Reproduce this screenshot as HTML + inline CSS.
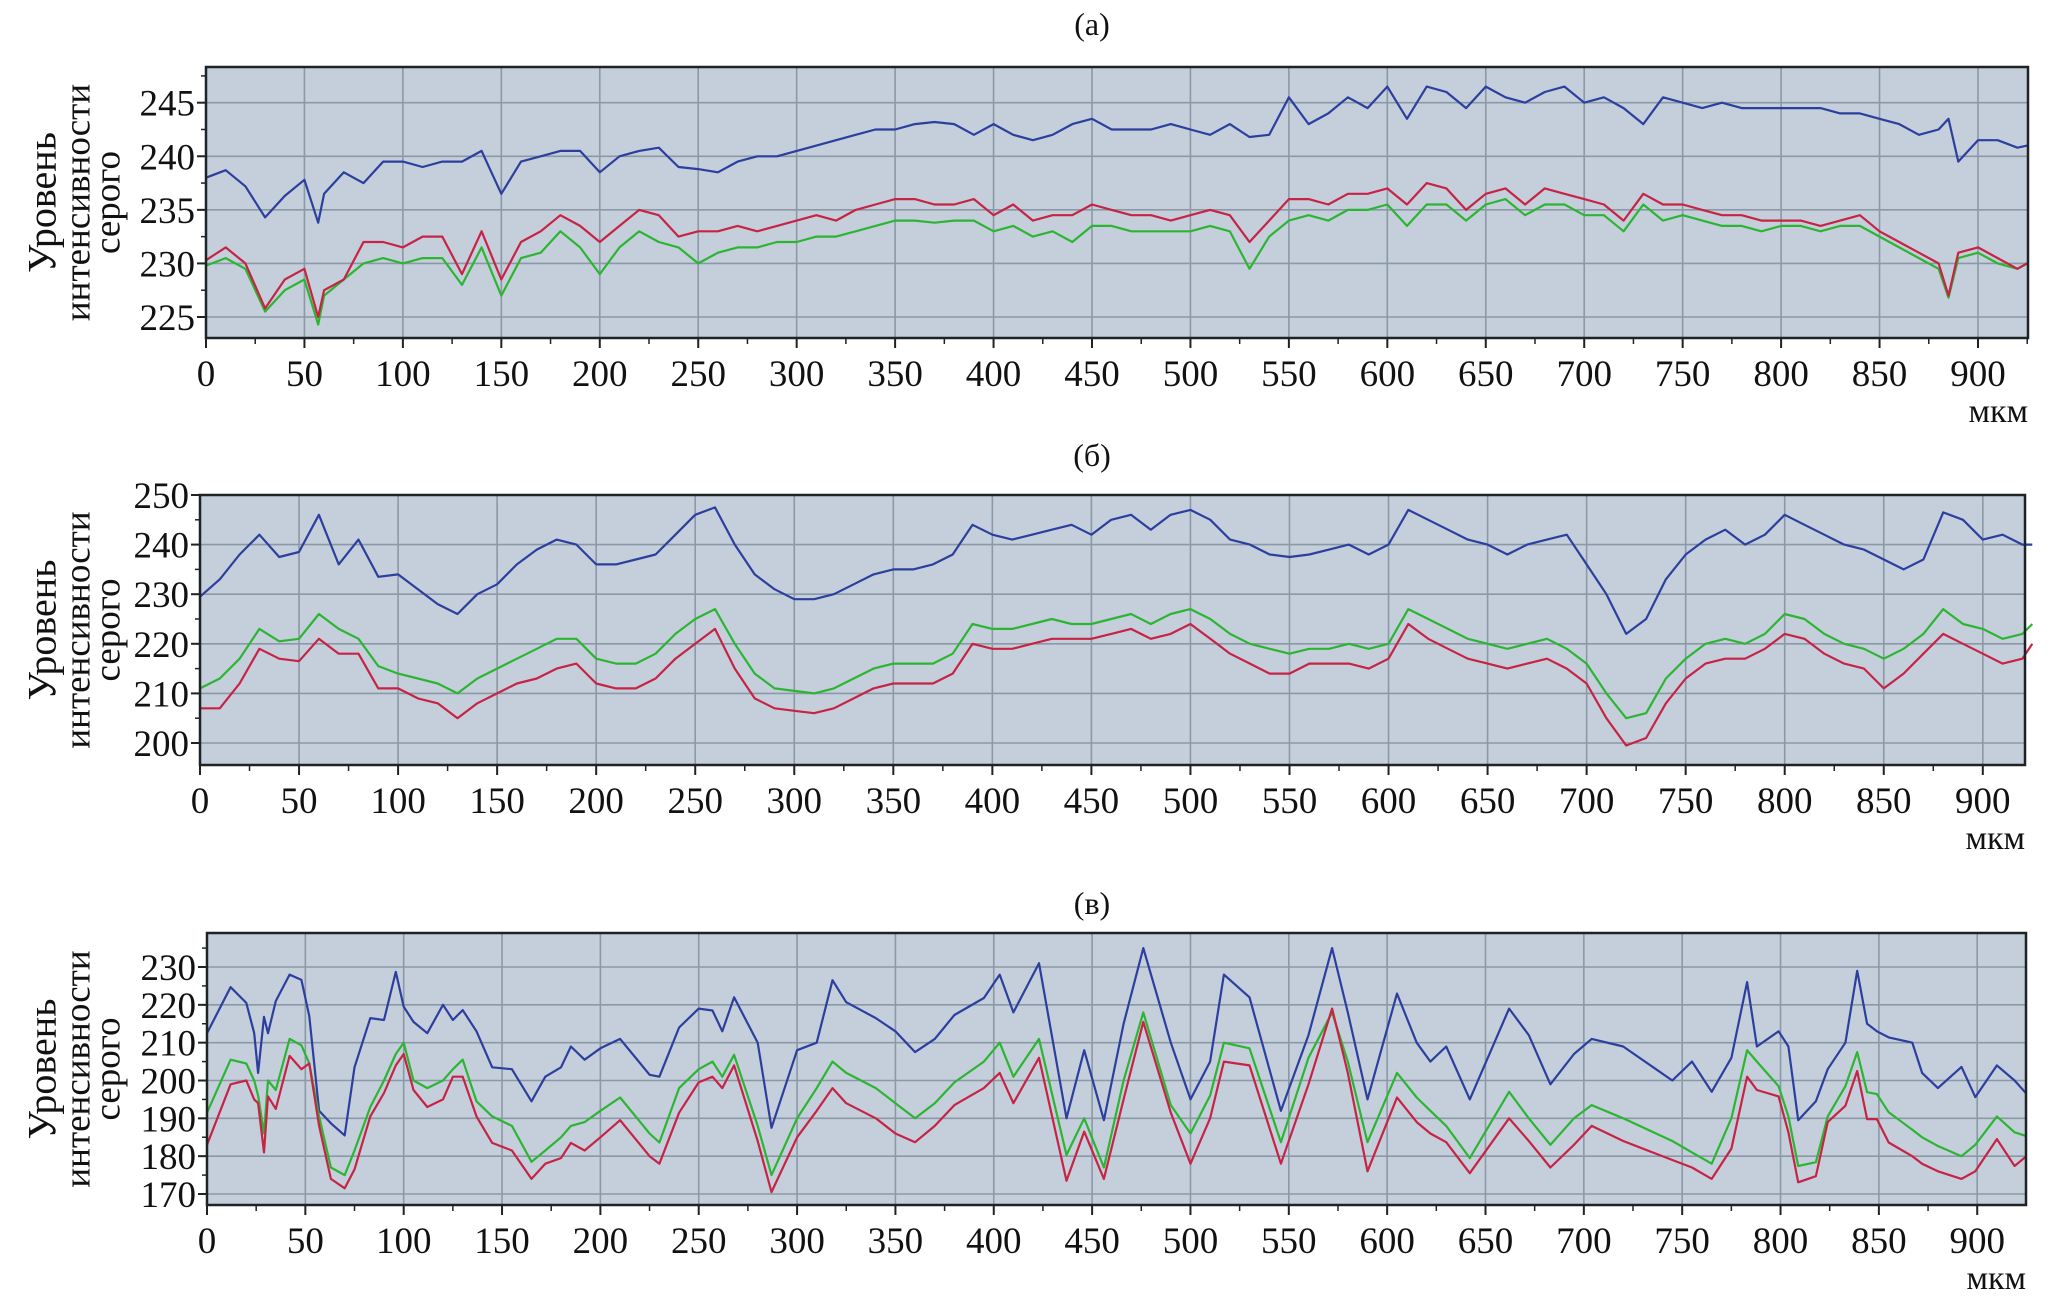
<!DOCTYPE html>
<html><head><meta charset="utf-8"><style>
html,body{margin:0;padding:0;background:#fff;}
svg{display:block;font-family:"Liberation Serif",serif;}
</style></head><body>
<svg id="chart" xmlns="http://www.w3.org/2000/svg" width="2067" height="1299" viewBox="0 0 2067 1299"></svg>
<script>
// ===== Panel (a) data =====
const xA = [0,10,20,30,40,50,57,60,70,80,
90,100,110,120,130,140,150,160,170,180,
190,200,210,220,230,240,250,260,270,280,
290,300,310,320,330,340,350,360,370,380,
390,400,410,420,430,440,450,460,470,480,
490,500,510,520,530,540,550,560,570,580,
590,600,610,620,630,640,650,660,670,680,
690,700,710,720,730,740,750,760,770,780,
790,800,810,820,830,840,850,860,870,880,
885,890,900,910,920,925];
const blueA = [238,238.7,237.2,234.3,236.3,237.8,233.8,236.5,238.5,237.5,
239.5,239.5,239,239.5,239.5,240.5,236.5,239.5,240,240.5,
240.5,238.5,240,240.5,240.8,239,238.8,238.5,239.5,240,
240,240.5,241,241.5,242,242.5,242.5,243,243.2,243,
242,243,242,241.5,242,243,243.5,242.5,242.5,242.5,
243,242.5,242,243,241.8,242,245.5,243,244,245.5,
244.5,246.5,243.5,246.5,246,244.5,246.5,245.5,245,246,
246.5,245,245.5,244.5,243,245.5,245,244.5,245,244.5,
244.5,244.5,244.5,244.5,244,244,243.5,243,242,242.5,
243.5,239.5,241.5,241.5,240.8,241];
const redA = [230.3,231.5,230,225.8,228.5,229.5,225,227.5,228.5,232,
232,231.5,232.5,232.5,229,233,228.5,232,233,234.5,
233.5,232,233.5,235,234.5,232.5,233,233,233.5,233,
233.5,234,234.5,234,235,235.5,236,236,235.5,235.5,
236,234.5,235.5,234,234.5,234.5,235.5,235,234.5,234.5,
234,234.5,235,234.5,232,234,236,236,235.5,236.5,
236.5,237,235.5,237.5,237,235,236.5,237,235.5,237,
236.5,236,235.5,234,236.5,235.5,235.5,235,234.5,234.5,
234,234,234,233.5,234,234.5,233,232,231,230,
227,231,231.5,230.5,229.5,230];
const greenA = [229.8,230.5,229.5,225.5,227.5,228.5,224.3,227,228.5,230,
230.5,230,230.5,230.5,228,231.5,227,230.5,231,233,
231.5,229,231.5,233,232,231.5,230,231,231.5,231.5,
232,232,232.5,232.5,233,233.5,234,234,233.8,234,
234,233,233.5,232.5,233,232,233.5,233.5,233,233,
233,233,233.5,233,229.5,232.5,234,234.5,234,235,
235,235.5,233.5,235.5,235.5,234,235.5,236,234.5,235.5,
235.5,234.5,234.5,233,235.5,234,234.5,234,233.5,233.5,
233,233.5,233.5,233,233.5,233.5,232.5,231.5,230.5,229.5,
226.8,230.5,231,230,229.5,230];
const ticksYA = [225,230,235,240,245];

// ===== Panel (б) data =====
const xB = [0,10,20,30,40,50,60,70,80,90,
100,110,120,130,140,150,160,170,180,190,
200,210,220,230,240,250,260,270,280,290,
300,310,320,330,340,350,360,370,380,390,
400,410,420,430,440,450,460,470,480,490,
500,510,520,530,540,550,560,570,580,590,
600,610,620,630,640,650,660,670,680,690,
700,710,720,730,740,750,760,770,780,790,
800,810,820,830,840,850,860,870,880,890,
900,910,920,925];
const blueB = [229.5,233,238,242,237.5,238.5,246,236,241,233.5,
234,231,228,226,230,232,236,239,241,240,
236,236,237,238,242,246,247.5,240,234,231,
229,229,230,232,234,235,235,236,238,244,
242,241,242,243,244,242,245,246,243,246,
247,245,241,240,238,237.5,238,239,240,238,
240,247,245,243,241,240,238,240,241,242,
236,230,222,225,233,238,241,243,240,242,
246,244,242,240,239,237,235,237,246.5,245,
241,242,240,240];
const greenB = [211,213,217,223,220.5,221,226,223,221,215.5,
214,213,212,210,213,215,217,219,221,221,
217,216,216,218,222,225,227,220,214,211,
210.5,210,211,213,215,216,216,216,218,224,
223,223,224,225,224,224,225,226,224,226,
227,225,222,220,219,218,219,219,220,219,
220,227,225,223,221,220,219,220,221,219,
216,210,205,206,213,217,220,221,220,222,
226,225,222,220,219,217,219,222,227,224,
223,221,222,224];
const redB = [207,207,212,219,217,216.5,221,218,218,211,
211,209,208,205,208,210,212,213,215,216,
212,211,211,213,217,220,223,215,209,207,
206.5,206,207,209,211,212,212,212,214,220,
219,219,220,221,221,221,222,223,221,222,
224,221,218,216,214,214,216,216,216,215,
217,224,221,219,217,216,215,216,217,215,
212,205,199.5,201,208,213,216,217,217,219,
222,221,218,216,215,211,214,218,222,220,
218,216,217,220];
const ticksYB = [200,210,220,230,240,250];

// ===== Panel (в) data =====
const xC = [0,12,20,24,26,29,31,35,42,48,
52,57,63,70,75,83,90,96,100,105,
112,120,125,130,137,145,155,165,172,180,
185,192,200,210,225,230,240,250,257,262,
268,280,287,300,310,318,325,340,350,360,
370,380,395,403,410,423,437,446,456,466,
476,490,500,510,517,530,546,560,572,580,
590,605,615,622,630,642,662,672,683,695,
704,720,745,755,765,775,783,788,799,804,
809,818,824,833,839,844,849,855,867,872,
880,892,899,910,919,925];
const blueC = [212.5,224.7,220.5,212.5,202,216.8,212.5,221,228,226.6,
217,192,188.7,185.5,203.5,216.5,216,228.7,219.5,215.5,
212.5,220,216,218.6,213,203.5,203,194.5,201,203.5,
209,205.5,208.5,211,201.5,201,214,219,218.5,213,
222,210,187.5,208,210,226.5,220.7,216.5,213,207.5,
211,217.3,221.8,228,218,231,190,208,189.5,215,
235,210,195,205,228,222,192,212,235,218,
195,223,210,205,209,195,219,212,199,207,
211,209,200,205,197,206,226,209,213,209,
189.5,194.5,203,210,229,215,213,211.4,210,202,
198,203.6,195.6,204,200,196.5];
const greenC = [191.5,205.5,204.5,200,196,186,200,197.5,211,209.3,
204.5,190.5,177,175,181.5,193,200,207,210,200,
198,200,203,205.5,194.5,190.5,188,178.5,181.5,185,
188,189,192,195.5,186,183.6,198,203,205,201,
206.8,188,175,190,198,205,202,198,194,190,
194,199.5,205,210,201,211,180.3,190,177,200,
218,193.5,186,196,210,208.5,183.7,206,218,205,
183.7,202,195.5,192,188,179.5,197,190,183,190,
193.5,190,184,181,178,190,208,205,198.5,190.5,
177.4,178.4,190.5,198.5,207.5,196.9,196.4,191.6,187,185,
182.7,180,183,190.5,186.3,185.3];
const redC = [183,199,200,195,194,181,195.8,192.5,206.5,203,
204.5,188,174,171.5,176.5,190.5,196.7,204,207,197.5,
193,195,201,201,190.5,183.5,181.5,174,178,179.5,
183.5,181.5,185,189.5,180,178,191.5,199.5,201,198,
204,184,170.5,185,192,198,194,190,186,183.7,
188,193.5,198,202,194,206,173.5,186.5,174,195,
215.5,191.5,178,190,205,204,178,199,219,202,
176,195.5,189,186,183.7,175.5,190,184,177,183,
188,184,179,177,174,182,201,197.5,195.8,186.3,
173.1,174.7,189,193.3,202.5,189.8,189.8,183.6,180,178,
176,174,176,184.5,177.4,180];
const ticksYC = [170,180,190,200,210,220,230];

const ticksX = [0,50,100,150,200,250,300,350,400,450,500,550,600,650,700,750,800,850,900];

// ===== rendering =====
const NS = 'http://www.w3.org/2000/svg';
const svg = document.getElementById('chart');
function mk(tag, attrs, parent) {
  const e = document.createElementNS(NS, tag);
  for (const k in attrs) e.setAttribute(k, attrs[k]);
  (parent || svg).appendChild(e);
  return e;
}

const panels = [
  {key:'a', title:'(а)', titleY:24, L:206, R:2028, T:67, B:338, xMax:925.4, yRef1:245, py1:102.7, yRef2:225, py2:317, ticksY:ticksYA, minor:2.5,
   xs:xA, series:[['blue',blueA,'#2d3f9e'],['green',greenA,'#2cb532'],['red',redA,'#c62345']]},
  {key:'b', title:'(б)', titleY:455, L:200, R:2025, T:495, B:765, xMax:921.3, yRef1:250, py1:495, yRef2:200, py2:743, ticksY:ticksYB, minor:5,
   xs:xB, series:[['blue',blueB,'#2d3f9e'],['green',greenB,'#2cb532'],['red',redB,'#c62345']]},
  {key:'c', title:'(в)', titleY:903, L:207, R:2026, T:933, B:1205, xMax:924.8, yRef1:230, py1:967, yRef2:170, py2:1194, ticksY:ticksYC, minor:5,
   xs:xC, series:[['blue',blueC,'#2d3f9e'],['green',greenC,'#2cb532'],['red',redC,'#c62345']]}
];

panels.forEach(p => {
  const g = mk('g', {});
  
  
  const sx = v => p.L + v * (p.R - p.L) / p.xMax;
  const k = (p.py2 - p.py1) / (p.yRef2 - p.yRef1);
  const sy = v => p.py1 + (v - p.yRef1) * k;
  const yTop = p.yRef1 + (p.T - p.py1) / k;
  const yBot = p.yRef1 + (p.B - p.py1) / k;

  const t = mk('text', {x:1092, y:p.titleY + 11, 'text-anchor':'middle', 'font-size':32, fill:'#111'}, g);
  t.textContent = p.title;
  
  

  const bg = mk('rect', {x:p.L, y:p.T, width:p.R - p.L, height:p.B - p.T, fill:'#c4cfdb'}, g);
  
  

  ticksX.forEach(v => {
    if (v > p.xMax) return;
    const gl = mk('line', {x1:sx(v), x2:sx(v), y1:p.T, y2:p.B, stroke:'#8b98a6', 'stroke-width':1.6}, g);
    
    
    const tk = mk('line', {x1:sx(v), x2:sx(v), y1:p.B, y2:p.B + 10, stroke:'#222', 'stroke-width':2}, g);
    
    
    const lb = mk('text', {x:sx(v), y:p.B + 48, 'text-anchor':'middle', 'font-size':37, fill:'#111'}, g);
    lb.textContent = String(v);
    
    
    const mv = v + 25;
    if (mv < p.xMax) {
      const mt = mk('line', {x1:sx(mv), x2:sx(mv), y1:p.B, y2:p.B + 6, stroke:'#222', 'stroke-width':1.5}, g);
      
      
    }
  });

  p.ticksY.forEach(v => {
    const y = sy(v);
    if (y > p.T + 3) {
      const gl = mk('line', {x1:p.L, x2:p.R, y1:y, y2:y, stroke:'#8b98a6', 'stroke-width':1.6}, g);
      
      
    }
    const tk = mk('line', {x1:p.L - 9, x2:p.L, y1:y, y2:y, stroke:'#222', 'stroke-width':2}, g);
    
    
    const lb = mk('text', {x:p.L - 11, y:y + 13, 'text-anchor':'end', 'font-size':37, fill:'#111'}, g);
    lb.textContent = String(v);
    
    
  });
  for (let v = Math.ceil(yBot / p.minor) * p.minor; v <= yTop; v += p.minor) {
    const mt = mk('line', {x1:p.L - 5, x2:p.L, y1:sy(v), y2:sy(v), stroke:'#222', 'stroke-width':1.5}, g);
    
    
  }

  p.series.forEach(s => {
    const ys = s[1];
    let d = '';
    for (let i = 0; i < p.xs.length && i < ys.length; i++) {
      d += (i ? 'L' : 'M') + sx(p.xs[i]).toFixed(1) + ' ' + sy(ys[i]).toFixed(1);
    }
    const pl = mk('path', {d:d, fill:'none', stroke:s[2], 'stroke-width':2.2, 'stroke-linejoin':'round'}, g);
    
    
  });

  const fr = mk('rect', {x:p.L, y:p.T, width:p.R - p.L, height:p.B - p.T, fill:'none', stroke:'#1e2326', 'stroke-width':2.5}, g);
  
  

  const unit = mk('text', {x:p.R, y:p.B + 84, 'text-anchor':'end', 'font-size':34, fill:'#111'}, g);
  unit.textContent = 'мкм';
  
  

  const cy = (p.T + p.B) / 2;
  const lines = [['Уровень', 42, 40], ['интенсивности', 78, 37], ['серого', 108, 37]];
  lines.forEach((ln, i) => {
    const tx = mk('text', {x:ln[1], y:cy, 'text-anchor':'middle', 'font-size':ln[2], fill:'#111', 'dominant-baseline':'central',
      transform:'rotate(-90 ' + ln[1] + ' ' + cy + ')'}, g);
    tx.textContent = ln[0];
    
    
  });
});
</script>
</body></html>
